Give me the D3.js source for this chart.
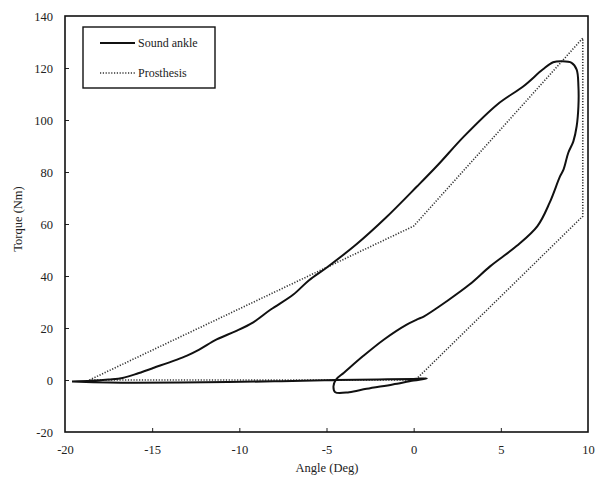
<!DOCTYPE html>
<html><head><meta charset="utf-8">
<script src="https://cdn.jsdelivr.net/npm/d3@7"></script>
<style>body{margin:0;background:#fff}svg text{font-family:"Liberation Serif","Times New Roman",serif;fill:#222}</style>
</head><body><svg id="c" width="598" height="477"></svg>
<script>
const xTicks = [-20,-15,-10,-5,0,5,10];
const yTicks = [-20,0,20,40,60,80,100,120,140];
const seriesNames = ["Sound ankle","Prosthesis"];
// Sound ankle loop: [angle, torque]
const soundAngle = [-19.6,-18.5,-17.5,-16.7,-15.8,-14.9,-13.0,-12.3,-11.3,-10.2,-9.2,-8.2,-6.9,-6.0,-5.0,-3.3,-1.6,0.2,1.4,2.9,4.8,6.3,7.4,8.0,8.5,9.06,9.35,9.45,9.45,9.35,9.16,8.87,8.6,8.4,7.8,7.1,5.9,4.4,3.2,1.9,0.6,0.2,-0.4,-1.7,-2.9,-4.0,-4.45,-4.6,-4.5,-3.7,-2.7,-1.2,0.0,0.75,0.0,-2.0,-4.5,-8.0,-12.0,-16.0,-17.5,-19.6];
const soundTorque = [-0.6,-0.3,0.2,0.8,2.6,4.7,9.4,11.7,15.6,18.8,22.2,27.1,32.9,38.4,43.2,52.1,62.4,74.5,82.8,93.8,106,113,119.4,122.2,122.6,122,119.4,113,105.3,97.6,91.8,87.4,81,78.4,68.2,59.2,51.5,43.8,36.7,30.3,24.5,23.3,21.3,15.6,9.2,2.8,0.2,-2.4,-4.7,-4.7,-3.4,-1.7,-0.2,0.6,0.4,0.2,0.0,-0.5,-0.9,-1.1,-1.0,-0.6];
const prosAngle = [-18.6,0.0,9.7,9.7,0.1,-18.6];
const prosTorque = [0,59.2,131.5,63,0,0];

const svg = d3.select("#c");
const x = d3.scaleLinear().domain([-20,10]).range([65,588]);
const y = d3.scaleLinear().domain([-20,140]).range([432,16]);
const fmt = d => String(d);

// axes
const gx = svg.append("g").attr("transform","translate(0,432)")
  .call(d3.axisBottom(x).tickValues(xTicks).tickSize(-4).tickPadding(13).tickFormat(fmt));
const gy = svg.append("g").attr("transform","translate(65,0)")
  .call(d3.axisLeft(y).tickValues(yTicks).tickSize(-4).tickPadding(12).tickFormat(fmt));
[gx,gy].forEach(g=>{
  g.select(".domain").remove();
  g.selectAll(".tick line").attr("stroke","#222").attr("stroke-width",1);
  g.selectAll(".tick text").attr("font-size",12.5).attr("font-family","Liberation Serif").attr("fill","#222");
});
gy.selectAll(".tick").filter(d=>d===-20||d===140).select("line").remove();
gx.selectAll(".tick").filter(d=>d===-20||d===10).select("line").remove();

// frame
svg.append("rect").attr("x",65).attr("y",16).attr("width",523).attr("height",416)
  .attr("fill","none").attr("stroke","#111").attr("stroke-width",1.6);

const line = d3.line().x(d=>x(d[0])).y(d=>y(d[1]));
svg.append("path").datum(prosAngle.map((a,i)=>[a,prosTorque[i]]))
  .attr("d",line).attr("fill","none").attr("stroke","#333").attr("stroke-width",1.6).attr("stroke-dasharray","1.2,1.6");
svg.append("path").datum(soundAngle.map((a,i)=>[a,soundTorque[i]]))
  .attr("d",line.curve(d3.curveCatmullRom.alpha(0.5))).attr("fill","none").attr("stroke","#111").attr("stroke-width",2).attr("stroke-linejoin","round");

// legend
svg.append("rect").attr("x",83).attr("y",27).attr("width",132).attr("height",61)
  .attr("fill","#fff").attr("stroke","#111").attr("stroke-width",1.4);
svg.append("line").attr("x1",100).attr("x2",135).attr("y1",43).attr("y2",43).attr("stroke","#111").attr("stroke-width",2);
svg.append("line").attr("x1",100).attr("x2",135).attr("y1",73).attr("y2",73).attr("stroke","#333").attr("stroke-width",1.4).attr("stroke-dasharray","1.2,1.6");
svg.append("text").attr("x",138).attr("y",47).attr("font-size",12).text(seriesNames[0]);
svg.append("text").attr("x",138).attr("y",77).attr("font-size",12).text(seriesNames[1]);

// titles
svg.append("text").attr("x",327).attr("y",472).attr("text-anchor","middle").attr("font-size",12.5).text("Angle (Deg)");
svg.append("text").attr("transform","translate(22,219) rotate(-90)").attr("text-anchor","middle").attr("font-size",12.5).text("Torque (Nm)");
</script></body></html>
